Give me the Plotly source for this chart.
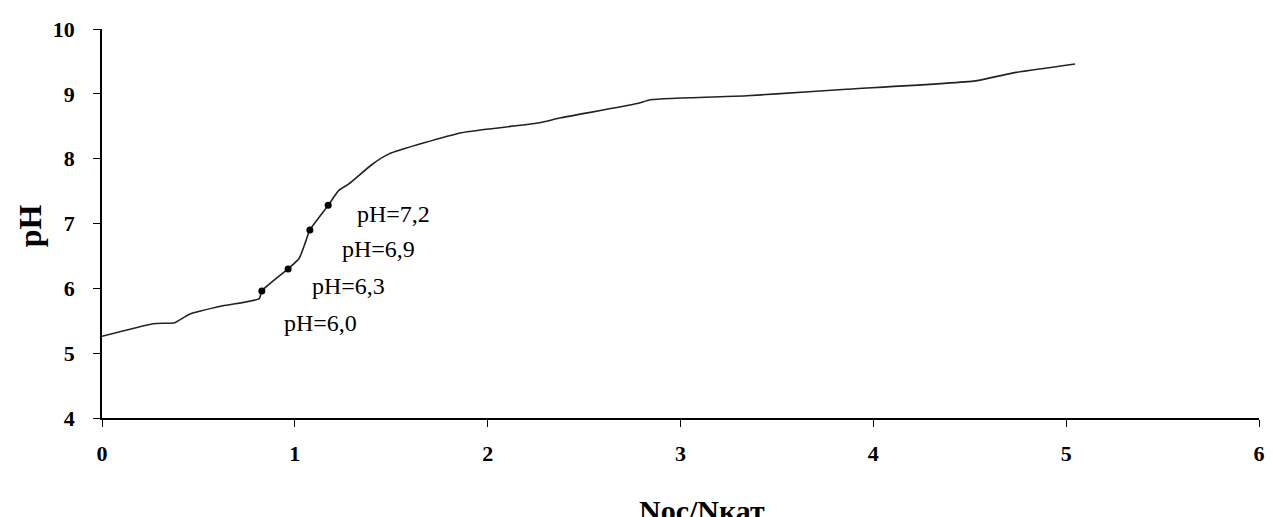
import plotly.graph_objects as go

# Curve data (Noc/Nкат vs pH)
x_curve = [0.0, 0.265, 0.377, 0.454, 0.626, 0.815, 0.829, 0.965, 1.022, 1.056, 1.078,
           1.173, 1.228, 1.280, 1.400, 1.486, 1.864, 2.260, 2.380, 2.776, 2.845,
           3.344, 3.498, 3.860, 4.530, 4.720, 5.046]
y_curve = [5.26, 5.455, 5.47, 5.60, 5.73, 5.84, 5.96, 6.30, 6.46, 6.72, 6.90,
           7.28, 7.51, 7.61, 7.91, 8.07, 8.40, 8.55, 8.63, 8.85, 8.91,
           8.97, 9.00, 9.07, 9.20, 9.32, 9.46]

# Marked points
x_marks = [0.829, 0.965, 1.078, 1.173]
y_marks = [5.96, 6.30, 6.90, 7.28]

# Point labels
label_texts = ["pH=6,0", "pH=6,3", "pH=6,9", "pH=7,2"]
label_x = [1.133, 1.280, 1.434, 1.512]
label_y = [5.47, 6.03, 6.61, 7.15]

x_title = "Noc/Nкат"
y_title = "pH"

FONT = "Liberation Serif"

fig = go.Figure()
fig.add_trace(go.Scatter(x=x_curve, y=y_curve, mode="lines",
                         line=dict(color="#222222", width=1.6, shape="spline", smoothing=0.5),
                         showlegend=False, hoverinfo="skip"))
fig.add_trace(go.Scatter(x=x_marks, y=y_marks, mode="markers",
                         marker=dict(color="black", size=7),
                         showlegend=False))

for t, lx, ly in zip(label_texts, label_x, label_y):
    fig.add_annotation(x=lx, y=ly, xref="x", yref="y", text=t, showarrow=False,
                       font=dict(family=FONT, size=24, color="black"),
                       xanchor="center", yanchor="middle")

fig.add_annotation(x=0.5185, y=-0.19, xref="paper", yref="paper", text="<b>" + x_title + "</b>",
                   showarrow=False, xanchor="center", yanchor="top",
                   font=dict(family=FONT, size=30, color="black"))
fig.add_annotation(x=-0.062, y=0.4936, xref="paper", yref="paper", text="<b>" + y_title + "</b>",
                   showarrow=False, xanchor="center", yanchor="middle", textangle=-90,
                   font=dict(family=FONT, size=32, color="black"))

axis_common = dict(showgrid=False, zeroline=False, showline=True, linecolor="black", linewidth=1.5,
                   ticks="outside", ticklen=7, tickwidth=1.3, tickcolor="black", dtick=1,
                   tickfont=dict(family=FONT, size=22, color="black"))

fig.update_xaxes(range=[0, 6], tick0=0, ticklabelstandoff=8, tickprefix="<b>", ticksuffix="</b>",
                 **axis_common)
fig.update_yaxes(range=[4, 10], tick0=4, ticklabelstandoff=14, tickprefix="<b>", ticksuffix="</b>",
                 **axis_common)

# The page body adds an 8px offset, so the figure is sized to keep the plot area in place
fig.update_layout(width=1266, height=509, plot_bgcolor="white", paper_bgcolor="white",
                  margin=dict(l=94, r=9, t=17, b=99))

fig.write_html("out.html")
